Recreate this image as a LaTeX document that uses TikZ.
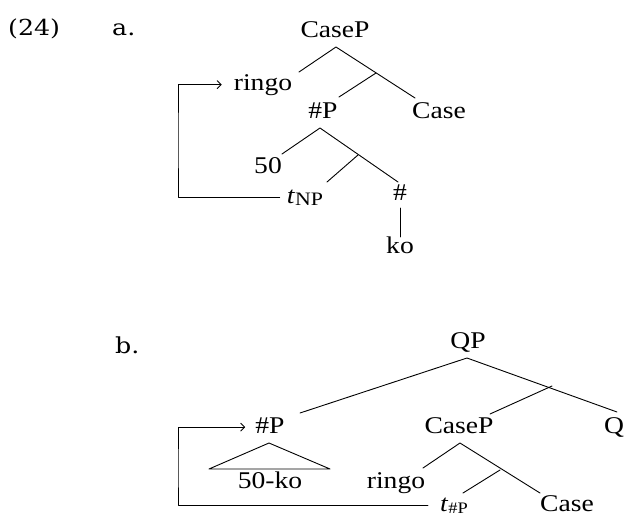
\documentclass[tikz,border=0pt]{standalone}
\usepackage{fontspec}
\setmainfont{Liberation Serif}[FakeStretch=1.15]
\newfontfamily\exfont{DejaVu Serif}[FakeStretch=1.15]
\usetikzlibrary{
  arrows.meta,
  calc
}
\newcommand{\trc}[2]{\textit{t}\raisebox{-2pt}{\fontsize{#1}{#1}\selectfont #2}}
\tikzset{
  every picture/.style={line cap=round, line join=round},
  lbl/.style={font=\fontsize{24}{28}\selectfont, anchor=base, inner sep=0pt},
  exnum/.style={font=\exfont\fontsize{22}{26}\selectfont, anchor=base west, inner sep=0pt},
  branch/.style={line width=0.9pt, draw=black},
  move/.style={line width=0.9pt, draw=black, -{Straight Barb[length=4pt,width=8pt]}}
}

\begin{document}
\begin{tikzpicture}[x=1pt, y=-1pt]
  \useasboundingbox (0,0) rectangle (627,517);

  % Example numbers
  \node[exnum] (exNum) at (8,35) {(24)};
  \node[exnum] (exA) at (112,35) {a.};
  \node[exnum] (exB) at (115,353) {b.};

  % Tree (a)
  \node[lbl] (casePa) at (335,37) {CaseP};
  \node[lbl] (ringoA) at (263,90) {ringo};
  \node[lbl] (hashPa) at (323,118) {\#P};
  \node[lbl] (caseA) at (439,118) {Case};
  \node[lbl] (fiftyA) at (268,173) {50};
  \node[lbl] (traceA) at (305,203) {\trc{19}{NP}};
  \node[lbl] (hashA) at (400,200) {\#};
  \node[lbl] (koA) at (400,253) {ko};

  \coordinate (casePa-top) at (336,47);
  \coordinate (casePa-bar) at (376,73);
  \coordinate (hashPa-top) at (320,128);
  \coordinate (hashPa-bar) at (358,155);
  \coordinate (ringoA-end) at (299,72);
  \coordinate (caseA-end) at (415,98);
  \coordinate (hashPa-end) at (339,97);
  \coordinate (fiftyA-end) at (282,154);
  \coordinate (hashA-end) at (398,182);
  \coordinate (traceA-end) at (327,182);
  \coordinate (hashA-foot) at (400,208);
  \coordinate (koA-end) at (400,237);

  \draw[branch] (ringoA-end) -- (casePa-top) -- (caseA-end);
  \draw[branch] (casePa-bar) -- (hashPa-end);
  \draw[branch] (fiftyA-end) -- (hashPa-top) -- (hashA-end);
  \draw[branch] (hashPa-bar) -- (traceA-end);
  \draw[branch] (hashA-foot) -- (koA-end);

  % Movement (a)
  \coordinate (moveA) at (178,140);
  \draw[move, shorten <=7pt, shorten >=12pt] (traceA.west) -| (moveA) |- (ringoA.west);

  % Tree (b)
  \node[lbl] (qpB) at (468,348) {QP};
  \node[lbl] (hashPb) at (270,433) {\#P};
  \node[lbl] (casePb) at (459,433) {CaseP};
  \node[lbl] (qB) at (614,433) {Q};
  \node[lbl] (fiftyKoB) at (270,488) {50-ko};
  \node[lbl] (ringoB) at (396,488) {ringo};
  \node[lbl] (traceB) at (454,511) {\trc{16}{\#P}};
  \node[lbl] (caseB) at (567,511) {Case};

  \coordinate (qpB-top) at (467,358);
  \coordinate (qpB-bar) at (552,386);
  \coordinate (hashPb-end) at (300,413);
  \coordinate (qB-end) at (617,412);
  \coordinate (casePb-end) at (490,414);
  \coordinate (casePb-top) at (460,443);
  \coordinate (casePb-bar) at (500,470);
  \coordinate (ringoB-end) at (423,468);
  \coordinate (caseB-end) at (540,493);
  \coordinate (traceB-end) at (463,493);

  \draw[branch] (hashPb-end) -- (qpB-top) -- (qB-end);
  \draw[branch] (qpB-bar) -- (casePb-end);
  \draw[branch] (ringoB-end) -- (casePb-top) -- (caseB-end);
  \draw[branch] (casePb-bar) -- (traceB-end);

  % Triangle over 50-ko
  \draw[branch] (209,469) -- (269,443) -- (330,469) -- cycle;

  % Movement (b)
  \coordinate (moveB) at (178,470);
  \draw[move, shorten <=12pt, shorten >=10pt] (traceB.west) -| (moveB) |- ([yshift=-2pt]hashPb.west);
\end{tikzpicture}
\end{document}
